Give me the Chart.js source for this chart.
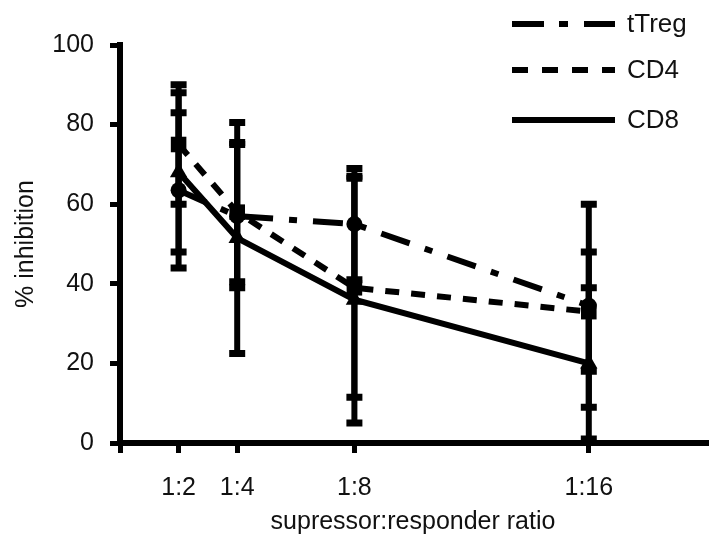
<!DOCTYPE html>
<html>
<head>
<meta charset="utf-8">
<script src="https://cdn.jsdelivr.net/npm/chart.js@4.4.0/dist/chart.umd.min.js"></script>
<style>
  html, body { margin: 0; padding: 0; background: #fff; overflow: hidden; }
  canvas { display: block; }
</style>
</head>
<body>
<canvas id="inhibChart" width="717" height="534"></canvas>
<script>
"use strict";

// responders per suppressor, and how the axis labels them
const ratios = [2, 4, 8, 16];
const ratioLabels = ["1:2", "1:4", "1:8", "1:16"];
const yTicks = [0, 20, 40, 60, 80, 100];

// mean % inhibition and SD for each population
const tTregMean = [63.5, 57, 55, 34.5];
const tTregSD = [19.5, 18, 14, 25.5];
const cd4Mean = [75, 58, 39, 33];
const cd4SD = [15, 17.5, 27.5, 15];
const cd8Mean = [68, 51.5, 36, 20];
const cd8SD = [20, 29, 31, 19];

const FONT = "'Liberation Sans', Arial, Helvetica, sans-serif";

function points(means) {
  return ratios.map((r, i) => ({ x: r, y: means[i] }));
}

// vertical SD bars with caps, drawn under the lines/markers
const errorBars = {
  id: "errorBars",
  beforeDatasetsDraw(chart) {
    const ctx = chart.ctx;
    const xs = chart.scales.x;
    const ys = chart.scales.y;
    ctx.save();
    ctx.strokeStyle = "#000";
    chart.data.datasets.forEach(ds => {
      ds.data.forEach((pt, i) => {
        const x = xs.getPixelForValue(pt.x);
        const top = ys.getPixelForValue(pt.y + ds.sd[i]);
        const bot = ys.getPixelForValue(pt.y - ds.sd[i]);
        ctx.setLineDash([]);
        ctx.lineWidth = 6;
        ctx.beginPath();
        ctx.moveTo(x, top);
        ctx.lineTo(x, bot);
        ctx.stroke();
        ctx.lineWidth = 7;
        ctx.beginPath();
        ctx.moveTo(x - 8, top);
        ctx.lineTo(x + 8, top);
        ctx.moveTo(x - 8, bot);
        ctx.lineTo(x + 8, bot);
        ctx.stroke();
      });
    });
    ctx.restore();
  }
};

// line-style key in the top right corner
const lineKey = {
  id: "lineKey",
  afterDraw(chart) {
    const ctx = chart.ctx;
    const rows = [24, 70, 120];
    ctx.save();
    ctx.font = "26px " + FONT;
    ctx.fillStyle = "#111";
    ctx.textBaseline = "middle";
    chart.data.datasets.forEach((ds, i) => {
      ctx.strokeStyle = "#000";
      ctx.lineWidth = 6;
      ctx.setLineDash(ds.keyDash);
      ctx.beginPath();
      ctx.moveTo(512, rows[i]);
      ctx.lineTo(615, rows[i]);
      ctx.stroke();
      ctx.setLineDash([]);
      ctx.fillText(ds.label, 627, rows[i] + 1);
    });
    ctx.restore();
  }
};

const data = {
  datasets: [
    {
      label: "tTreg",
      data: points(tTregMean),
      sd: tTregSD,
      borderDash: [30, 16, 8, 16],
      keyDash: [32, 15, 9, 16],
      pointStyle: "circle",
      pointRadius: 8
    },
    {
      label: "CD4",
      data: points(cd4Mean),
      sd: cd4SD,
      borderDash: [14, 12],
      keyDash: [16, 14],
      pointStyle: "rect",
      pointRadius: 11
    },
    {
      label: "CD8",
      data: points(cd8Mean),
      sd: cd8SD,
      borderDash: [],
      keyDash: [],
      pointStyle: "triangle",
      pointRadius: 10
    }
  ]
};
data.datasets.forEach(ds => {
  ds.borderColor = "#000";
  ds.backgroundColor = "#000";
  ds.borderWidth = 6;
  ds.pointBorderWidth = 0;
  ds.tension = 0;
  ds.clip = false;
});

const axisGrid = {
  display: true,
  drawOnChartArea: false,
  drawTicks: true,
  tickLength: 10,
  lineWidth: 5,
  color: "#000"
};
const axisBorder = { display: true, width: 6, color: "#000" };

const config = {
  type: "line",
  data: data,
  options: {
    responsive: false,
    animation: false,
    devicePixelRatio: 1,
    layout: { padding: { top: 45, right: 0, bottom: 0, left: 0 } },
    plugins: { legend: { display: false }, tooltip: { enabled: false } },
    scales: {
      x: {
        type: "linear",
        min: 0,
        max: 20,
        grid: axisGrid,
        border: axisBorder,
        afterBuildTicks: scale => {
          scale.ticks = [0].concat(ratios).map(v => ({ value: v }));
        },
        afterFit: scale => { scale.height = 91; },
        ticks: {
          color: "#111",
          padding: 20,
          maxRotation: 0,
          autoSkip: false,
          font: { family: FONT, size: 25 },
          callback: value => {
            const i = ratios.indexOf(value);
            return i < 0 ? "" : ratioLabels[i];
          }
        },
        title: {
          display: true,
          text: "supressor:responder ratio",
          color: "#111",
          font: { family: FONT, size: 25 },
          padding: { top: 0, bottom: -3 }
        }
      },
      y: {
        min: 0,
        max: 100,
        grid: axisGrid,
        border: axisBorder,
        afterBuildTicks: scale => {
          scale.ticks = yTicks.map(v => ({ value: v }));
        },
        afterFit: scale => { scale.width = 120; },
        ticks: {
          color: "#111",
          padding: 16,
          font: { family: FONT, size: 25 }
        },
        title: {
          display: true,
          text: "% inhibition",
          color: "#111",
          font: { family: FONT, size: 25 },
          padding: { top: 11, bottom: 0 }
        }
      }
    }
  },
  plugins: [errorBars, lineKey]
};

const inhibChart = new Chart(document.getElementById("inhibChart"), config);
</script>
</body>
</html>
